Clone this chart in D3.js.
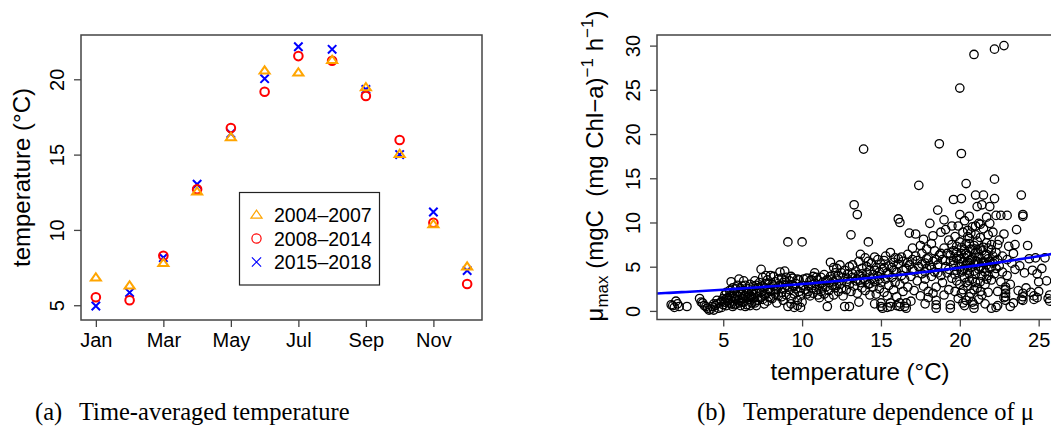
<!DOCTYPE html>
<html><head><meta charset="utf-8">
<script src="https://cdn.jsdelivr.net/npm/d3@7"></script>
<style>
body{margin:0;background:#fff}
svg{display:block}
text{font-family:"Liberation Sans",Arial,Helvetica,sans-serif;fill:#000}
.cap{font-family:"Liberation Serif","DejaVu Serif",serif}
</style>
</head><body>
<svg id="c" width="1051" height="433"></svg>
<script>
// ---------- data ----------
const months = ["Jan","Feb","Mar","Apr","May","Jun","Jul","Aug","Sep","Oct","Nov","Dec"];
const monthTickIdx = [1,3,5,7,9,11];
const seriesNames = ["2004–2007","2008–2014","2015–2018"];
const temp0407 = [6.83,6.30,7.79,12.54,16.15,20.57,20.44,21.28,19.46,15.04,10.37,7.56];
const temp0814 = [5.53,5.33,8.29,12.70,16.77,19.17,21.54,21.23,18.89,15.97,10.48,6.41];
const temp1518 = [4.95,5.84,8.16,13.03,16.40,20.04,22.16,21.99,19.33,15.00,11.19,7.30];
const leftYTicks = [5,10,15,20];
const rightXTicks = [5,10,15,20,25];
const rightYTicks = [0,5,10,15,20,25,30];
// fitted exponential  mu = A * exp(B * T)
const fitA = 1.897, fitB = 0.0473;
// observations [temperature, mu_max]
const muPoints = [
[1.7,0.7],[1.8,0.6],[1.9,0.4],[2.0,1.1],[2.1,0.8],[2.2,0.5],[2.7,0.5],
[3.5,1.4],[3.6,1.0],[3.7,0.9],[3.8,0.6],[3.9,0.5],[4.0,0.3],[4.1,0.1],[4.2,0.2],[4.3,0.5],[4.4,0.8],[4.5,0.6],[4.6,0.8],[4.7,0.3],[4.8,0.9],[4.9,1.1],[4.9,0.4],[5.0,1.4],[5.0,0.7],[4.4,0.1],[4.6,1.2],
[5.1,1.8],[5.1,1.0],[5.2,2.1],[5.2,0.6],[5.3,1.5],[5.3,1.2],[5.4,0.9],[5.4,2.3],[5.5,3.3],[5.5,1.6],[5.6,1.1],[5.6,0.5],[5.7,2.0],[5.7,1.4],
[5.8,0.8],[5.8,2.5],[5.9,1.7],[6.0,1.2],[6.0,2.2],[6.1,0.6],[6.1,1.9],[6.2,2.8],[6.2,1.4],[6.3,2.3],[6.3,1.0],[6.4,1.7],[6.4,2.9],[6.5,0.7],[6.5,2.0],
[6.6,1.3],[6.6,2.5],[6.7,3.0],[6.7,1.8],[6.8,0.9],[6.8,2.2],[6.9,1.5],[6.9,2.8],[7.0,3.4],[7.0,1.1],[7.1,2.0],[7.1,0.6],[7.2,2.6],[7.2,1.6],[7.3,3.2],
[7.4,4.7],[7.4,2.1],[7.5,1.3],[7.5,3.8],[7.6,2.6],[7.6,0.8],[7.7,4.0],[7.7,1.9],[7.8,3.5],[7.8,2.4],[7.9,1.6],[7.9,3.0],[8.0,2.2],[8.0,4.0],
[5.2,1.4],[5.4,1.7],[5.5,0.8],[5.6,2.6],[5.8,1.3],[5.9,2.9],[6.0,0.9],[6.1,2.5],[6.2,1.0],[6.3,1.7],[6.4,0.5],[6.5,1.5],[6.6,2.0],[6.7,0.6],[6.8,1.6],[6.9,2.3],[7.0,0.9],[7.1,2.9],[7.2,1.2],[7.3,2.3],[7.4,1.5],[7.5,2.8],[7.6,1.8],[7.7,3.1],[7.8,1.1],[7.9,2.5],[8.0,1.5],[6.0,3.6],[6.3,3.4],[5.7,0.7],
[8.1,1.4],[8.2,2.8],[8.2,3.9],[8.3,1.9],[8.3,3.3],[8.4,2.4],[8.4,0.9],[8.5,3.6],[8.5,1.7],[8.6,2.9],[8.6,4.4],[8.7,2.1],[8.8,3.2],[8.8,1.2],[8.9,4.5],[8.9,2.6],[9.0,3.8],[9.0,1.8],[9.1,0.5],[9.1,7.8],[9.2,2.4],[9.2,3.4],[9.3,1.4],[9.3,0.8],[9.4,2.9],[9.4,3.7],[9.5,1.9],[9.5,0.4],[9.6,2.5],[9.6,3.1],[9.7,1.2],[9.7,0.6],[9.8,2.2],[9.8,3.5],[9.9,0.4],[9.9,1.7],[10.0,2.9],[10.0,7.8],[10.0,1.0],[10.1,3.6],[9.0,2.9],[8.7,3.7],
[8.1,3.0],[8.3,2.4],[8.5,2.8],[8.7,1.6],[8.9,3.4],[9.1,2.7],[9.3,3.9],[9.5,2.8],[9.7,3.6],[9.9,2.6],
[10.2,2.4],[10.3,3.7],[10.3,1.9],[10.4,2.9],[10.5,3.4],[10.5,1.7],[10.6,2.6],[10.7,3.9],[10.7,2.0],[10.8,3.1],[10.9,2.4],[11.0,3.5],[11.0,1.8],[11.1,2.9],[11.2,3.8],[11.2,2.2],[11.3,3.2],[11.4,1.9],[11.4,4.1],[11.5,2.7],[11.6,3.5],[11.6,0.5],[11.7,2.3],[11.8,3.9],[11.8,5.5],[11.9,2.9],[12.0,3.3],[12.0,1.8],[12.1,4.3],[12.1,2.6],[12.2,3.6],[12.3,2.2],[12.3,4.0],[12.4,3.0],[12.4,5.2],[12.5,2.5],[12.6,3.8],[12.6,1.7],[12.7,4.6],[12.7,0.5],[12.8,3.3],[12.8,2.4],[12.9,4.2],[13.0,0.5],[13.0,3.0],[13.0,5.0],[12.2,4.8],[11.1,1.5],[10.8,4.3],
[10.4,2.2],[10.6,3.5],[10.9,3.8],[11.3,2.6],[11.5,3.4],[11.9,3.6],[12.2,2.9],[12.5,4.3],[12.9,3.6],[12.0,4.9],[11.7,1.5],
[13.1,8.6],[13.1,2.2],[13.2,3.8],[13.2,5.2],[13.3,12.0],[13.3,2.8],[13.4,4.5],[13.4,3.4],[13.5,10.9],[13.5,2.0],[13.6,4.1],[13.6,5.6],[13.7,3.2],[13.7,6.4],[13.8,2.6],[13.8,4.8],[13.9,3.7],[13.9,18.3],[14.0,6.0],[14.0,2.3],[14.1,4.3],[14.1,5.0],[14.2,3.0],[14.2,7.8],[14.3,1.8],[14.3,4.6],[14.4,3.6],[14.4,5.4],[14.5,2.7],[14.5,4.1],[14.6,6.1],[14.6,3.3],[14.7,1.9],[14.7,4.9],[14.8,3.9],[14.8,5.8],[14.9,2.5],[14.9,4.4],[15.0,0.5],[15.0,0.9],[15.0,3.2],[15.0,5.3],[14.6,0.8],[13.6,1.0],
[13.2,4.2],[13.5,3.6],[13.8,4.2],[14.0,3.5],[14.3,3.1],[14.6,4.6],[14.9,3.6],[14.2,5.6],
[15.1,0.3],[15.1,4.7],[15.2,5.7],[15.2,2.1],[15.3,3.6],[15.3,6.2],[15.4,4.3],[15.4,1.7],[15.5,5.1],[15.5,2.9],[15.6,0.5],[15.6,0.9],[15.6,6.6],[15.7,3.8],[15.7,4.9],[15.8,2.4],[15.8,5.5],[15.9,3.2],[15.9,6.0],[16.0,4.4],[16.0,1.6],[16.1,10.4],[16.1,5.3],[16.2,0.5],[16.2,0.9],[16.2,10.0],[16.2,3.0],[16.3,6.1],[16.3,4.0],[16.4,2.2],[16.4,5.6],[16.5,0.5],[16.5,3.6],[16.6,0.3],[16.6,0.9],[16.6,4.8],[16.7,6.4],[16.7,2.7],[16.8,5.2],[16.8,8.8],[16.9,3.9],[16.9,1.1],[17.0,5.8],[17.0,7.1],[17.1,2.3],[17.1,4.5],[17.2,8.7],[17.2,6.2],[17.3,3.4],[17.4,14.2],[17.4,5.0],[17.5,1.7],[17.5,7.4],[16.0,0.6],[15.4,0.4],
[15.2,4.9],[15.5,4.1],[15.8,4.6],[16.1,5.9],[16.4,4.6],[16.7,5.5],[17.0,4.7],[17.3,5.7],[17.6,5.3],[17.9,5.9],[18.2,4.9],[18.5,5.8],[18.8,6.5],[19.1,5.7],[19.4,6.3],[18.6,4.3],[17.8,4.4],[19.3,4.7],
[17.6,4.2],[17.6,6.5],[17.7,2.8],[17.7,8.1],[17.8,5.4],[17.8,3.6],[17.9,7.0],[17.9,4.8],[18.0,6.0],[18.0,2.2],[18.1,9.9],[18.1,5.1],[18.2,3.9],[18.2,7.6],[18.3,5.6],[18.3,8.5],[18.4,4.4],[18.4,6.8],[18.5,0.3],[18.5,0.7],[18.5,1.2],[18.5,2.7],[18.6,11.4],[18.6,5.2],[18.7,18.9],[18.7,6.3],[18.8,4.0],[18.8,8.9],[18.9,5.8],[18.9,3.2],[19.0,10.3],[19.0,7.1],[19.1,5.0],[19.1,9.2],[19.2,6.5],[19.2,4.3],[19.3,8.0],[19.3,2.4],[19.4,0.3],[19.4,0.7],[19.4,5.6],[19.5,7.5],[19.5,3.7],[19.5,9.6],[18.0,1.5],[17.8,0.8],[19.0,1.8],[18.3,2.0],
[19.6,12.6],[19.6,5.2],[19.6,6.8],[19.7,4.1],[19.7,8.4],[19.7,2.2],[19.8,5.9],[19.8,7.3],[19.8,3.4],[19.9,6.2],[19.9,9.6],[19.9,1.4],[20.0,25.2],[20.0,5.0],[20.0,10.9],[20.0,7.8],[20.0,3.0],[20.1,12.7],[20.1,6.5],[20.1,4.4],[20.1,17.8],[20.2,8.9],[20.2,5.5],[20.2,2.4],[20.3,10.2],[20.3,6.9],[20.3,3.8],[20.3,0.6],[20.4,14.4],[20.4,7.6],[20.4,5.2],[20.4,1.2],[20.5,9.1],[20.5,4.6],[20.5,6.3],[20.5,2.8],[20.6,8.2],[20.6,5.7],[20.6,10.7],[20.6,3.4],[20.7,7.0],[20.7,4.9],[20.7,2.0],[20.8,9.5],[20.8,6.0],[20.8,3.6],[20.8,1.0],[20.9,29.0],[20.9,7.4],[20.9,5.3],[20.9,0.3],[20.9,0.7],[21.0,13.1],[21.0,8.6],[21.0,4.2],[21.0,6.6],[21.1,11.8],[21.1,5.6],[21.1,2.6],[21.1,7.9],[21.2,9.9],[21.2,4.7],[21.2,6.1],[21.3,3.3],[21.3,8.3],[21.3,5.0],[21.4,12.0],[21.4,6.8],[21.4,4.0],[21.4,1.8],[21.5,9.3],[21.5,5.5],[21.5,13.1],[21.5,7.2],[21.6,3.0],[21.6,6.3],[21.6,4.4],[21.7,10.6],[21.7,7.7],[21.7,5.2],[21.8,2.1],[21.8,8.6],[21.8,5.9],[21.9,9.9],[21.9,11.8],[21.9,4.8],[22.0,6.9],[22.0,3.5],[22.0,0.3],[22.0,7.5],[20.2,0.9],[20.6,1.6],[21.2,1.3],[21.6,0.8],[21.0,3.2],[20.3,4.8],[20.7,8.8],[21.3,9.8],[19.8,4.6],[21.8,4.0],
[19.6,5.7],[19.8,6.6],[20.0,5.9],[20.1,7.2],[20.2,4.6],[20.3,6.0],[20.4,6.5],[20.5,5.5],[20.6,4.2],[20.7,5.8],[20.8,6.9],[20.9,4.5],[21.0,5.6],[21.1,6.9],[21.2,5.4],[21.3,7.0],[21.4,5.5],[21.5,4.8],[21.6,5.5],[21.7,6.4],[21.8,7.1],[21.9,5.6],[22.0,5.0],[22.1,6.2],[22.2,5.6],[22.3,4.8],[22.4,5.8],[20.4,3.2],[20.9,2.4],[21.3,2.2],[20.1,2.0],[21.7,3.6],[20.6,7.6],[21.0,9.6],[20.5,8.4],
[22.1,5.4],[22.1,8.9],[22.2,29.6],[22.2,14.9],[22.2,12.7],[22.2,4.2],[22.3,6.6],[22.3,0.4],[22.3,10.8],[22.4,7.5],[22.4,2.2],[22.4,0.6],[22.5,5.1],[22.5,8.0],[22.6,3.3],[22.6,10.8],[22.7,6.2],[22.7,4.4],[22.8,30.0],[22.8,8.7],[22.8,1.5],[22.9,1.2],[22.9,1.6],[22.9,2.0],[22.9,2.4],[22.9,2.7],[23.0,10.8],[23.0,5.8],[23.0,4.0],[23.1,7.3],[23.2,0.5],[23.2,3.0],[23.3,5.4],[23.4,0.9],[23.4,6.5],[23.5,7.5],[23.5,4.7],[23.6,9.2],[23.7,2.3],[23.8,5.1],[23.9,13.1],[23.9,1.3],[24.0,1.2],[24.0,1.6],[24.0,2.0],[24.0,10.9],[24.0,10.7],[24.1,4.3],[24.2,2.6],[24.3,7.4],[24.4,5.9],[24.5,2.1],[24.6,4.6],[24.7,1.3],[24.7,1.7],[24.8,6.0],[24.9,1.5],[24.9,4.2],[25.0,2.2],[25.0,3.3],[25.2,4.8],[25.4,6.0],[25.5,3.4],[25.6,1.4],[25.7,1.1],[25.7,1.8]
];

// ---------- drawing ----------
const svg = d3.select("#c");
svg.append("rect").attr("width",1051).attr("height",433).attr("fill","#fff");
const frameCol = "#444";

// ===== Panel (a) =====
const L = {x0:81, x1:482, y0:35, y1:320};
const xL = d3.scaleLinear().domain([0.56,12.44]).range([L.x0,L.x1]);
const yL = d3.scaleLinear().domain([4.02,22.94]).range([L.y1,L.y0]);

const gxL = svg.append("g").attr("transform",`translate(0,${L.y1})`)
  .call(d3.axisBottom(xL).tickValues(monthTickIdx).tickFormat(i=>months[i-1]).tickSize(7).tickSizeOuter(0).tickPadding(6));
const gyL = svg.append("g").attr("transform",`translate(${L.x0},0)`)
  .call(d3.axisLeft(yL).tickValues(leftYTicks).tickSize(7).tickSizeOuter(0));
[gxL,gyL].forEach(g=>{
  g.select(".domain").remove();
  g.selectAll(".tick line").attr("stroke",frameCol).attr("stroke-width",1.3);
  g.selectAll("text").attr("font-size",20).attr("font-family","Liberation Sans, Arial, sans-serif").attr("fill","#000");
});
gyL.selectAll("text").attr("x",null).attr("dy",null).attr("text-anchor","middle")
  .attr("transform","translate(-17.5,0) rotate(-90)");
svg.append("rect").attr("x",L.x0).attr("y",L.y0).attr("width",L.x1-L.x0).attr("height",L.y1-L.y0)
  .attr("fill","none").attr("stroke",frameCol).attr("stroke-width",1.5);

svg.append("text").attr("transform",`translate(30,${(L.y0+L.y1)/2}) rotate(-90)`)
  .attr("text-anchor","middle").attr("font-size",24).text("temperature (°C)");

const idx = d3.range(12);
// crosses
svg.append("g").selectAll("path").data(idx).join("path")
  .attr("d",i=>{const x=xL(i+1),y=yL(temp1518[i]),s=4.2;return `M${x-s},${y-s}L${x+s},${y+s}M${x-s},${y+s}L${x+s},${y-s}`;})
  .attr("stroke","#0000ff").attr("stroke-width",2).attr("fill","none");
// circles
svg.append("g").selectAll("circle").data(idx).join("circle")
  .attr("cx",i=>xL(i+1)).attr("cy",i=>yL(temp0814[i])).attr("r",4.3)
  .attr("stroke","#ff0000").attr("stroke-width",2).attr("fill","none");
// triangles
const tri = (x,y,s)=>`M${x},${y-s*0.78}L${x+s*0.9},${y+s*0.52}L${x-s*0.9},${y+s*0.52}Z`;
svg.append("g").selectAll("path").data(idx).join("path")
  .attr("d",i=>tri(xL(i+1),yL(temp0407[i]),5.6))
  .attr("stroke","#ffa500").attr("stroke-width",2).attr("fill","none");

// legend
const lg = svg.append("g");
lg.append("rect").attr("x",239.5).attr("y",192.5).attr("width",140).attr("height",92.5)
  .attr("fill","#fff").attr("stroke","#222").attr("stroke-width",1.2);
const legRows = [215,238.5,262];
seriesNames.forEach((n,k)=>{
  const cx=256.5, cy=legRows[k];
  if(k===0) lg.append("path").attr("d",tri(cx,cy,6.2)).attr("stroke","#ffa500").attr("stroke-width",1.2).attr("fill","none");
  if(k===1) lg.append("circle").attr("cx",cx).attr("cy",cy).attr("r",4.6).attr("stroke","#ff0000").attr("stroke-width",1.2).attr("fill","none");
  if(k===2) lg.append("path").attr("d",`M${cx-4.6},${cy-4.6}L${cx+4.6},${cy+4.6}M${cx-4.6},${cy+4.6}L${cx+4.6},${cy-4.6}`).attr("stroke","#0000ff").attr("stroke-width",1.2);
  lg.append("text").attr("x",274).attr("y",cy+7).attr("font-size",19.5).text(n);
});

// ===== Panel (b) =====
const R = {x0:657, x1:1068, y0:35, y1:319.5};
const xR = d3.scaleLinear().domain([0.8,26.86]).range([R.x0,R.x1]);
const yR = d3.scaleLinear().domain([-0.97,31.2]).range([R.y1,R.y0]);

svg.append("defs").append("clipPath").attr("id","clipR").append("rect")
  .attr("x",R.x0).attr("y",R.y0).attr("width",R.x1-R.x0).attr("height",R.y1-R.y0);

const gxR = svg.append("g").attr("transform",`translate(0,${R.y1})`)
  .call(d3.axisBottom(xR).tickValues(rightXTicks).tickSize(7).tickSizeOuter(0).tickPadding(6));
const gyR = svg.append("g").attr("transform",`translate(${R.x0},0)`)
  .call(d3.axisLeft(yR).tickValues(rightYTicks).tickSize(7).tickSizeOuter(0));
[gxR,gyR].forEach(g=>{
  g.select(".domain").remove();
  g.selectAll(".tick line").attr("stroke",frameCol).attr("stroke-width",1.3);
  g.selectAll("text").attr("font-size",20).attr("font-family","Liberation Sans, Arial, sans-serif").attr("fill","#000");
});
gyR.selectAll("text").attr("x",null).attr("dy",null).attr("text-anchor","middle")
  .attr("transform","translate(-17.5,0) rotate(-90)");

const pts = svg.append("g").attr("clip-path","url(#clipR)");
pts.selectAll("circle").data(muPoints).join("circle")
  .attr("cx",d=>xR(d[0])).attr("cy",d=>yR(d[1])).attr("r",4.2)
  .attr("fill","none").attr("stroke","#000").attr("stroke-width",1.3);

const fitT = d3.range(0, 101).map(k=>xR.domain()[0] + k*(xR.domain()[1]-xR.domain()[0])/100);
pts.append("path").datum(fitT)
  .attr("d",d3.line().x(t=>xR(t)).y(t=>yR(fitA*Math.exp(fitB*t))))
  .attr("fill","none").attr("stroke","#0000ff").attr("stroke-width",2.6);

svg.append("rect").attr("x",R.x0).attr("y",R.y0).attr("width",R.x1-R.x0).attr("height",R.y1-R.y0)
  .attr("fill","none").attr("stroke",frameCol).attr("stroke-width",1.5);

svg.append("text").attr("x",860).attr("y",380).attr("text-anchor","middle").attr("font-size",24).text("temperature (°C)");

const yl = svg.append("text").attr("transform","translate(603,166) rotate(-90)")
  .attr("text-anchor","middle").attr("font-size",24).style("white-space","pre");
yl.append("tspan").text("μ");
yl.append("tspan").attr("dy",5).attr("font-size",17).text("max");
yl.append("tspan").attr("dy",-5).text(" (mgC  (mg Chl−a)");
yl.append("tspan").attr("dy",-10).attr("font-size",17).text("−1");
yl.append("tspan").attr("dy",10).text(" h");
yl.append("tspan").attr("dy",-10).attr("font-size",17).text("−1");
yl.append("tspan").attr("dy",10).text(")");

// captions
svg.append("text").attr("class","cap").attr("x",35).attr("y",420).attr("font-size",24.5).text("(a)");
svg.append("text").attr("class","cap").attr("x",79).attr("y",420).attr("font-size",24.5).text("Time-averaged temperature");
svg.append("text").attr("class","cap").attr("x",697).attr("y",420).attr("font-size",24.5).text("(b)");
svg.append("text").attr("class","cap").attr("x",743).attr("y",420).attr("font-size",24.5).text("Temperature dependence of μ");
</script>
</body></html>
